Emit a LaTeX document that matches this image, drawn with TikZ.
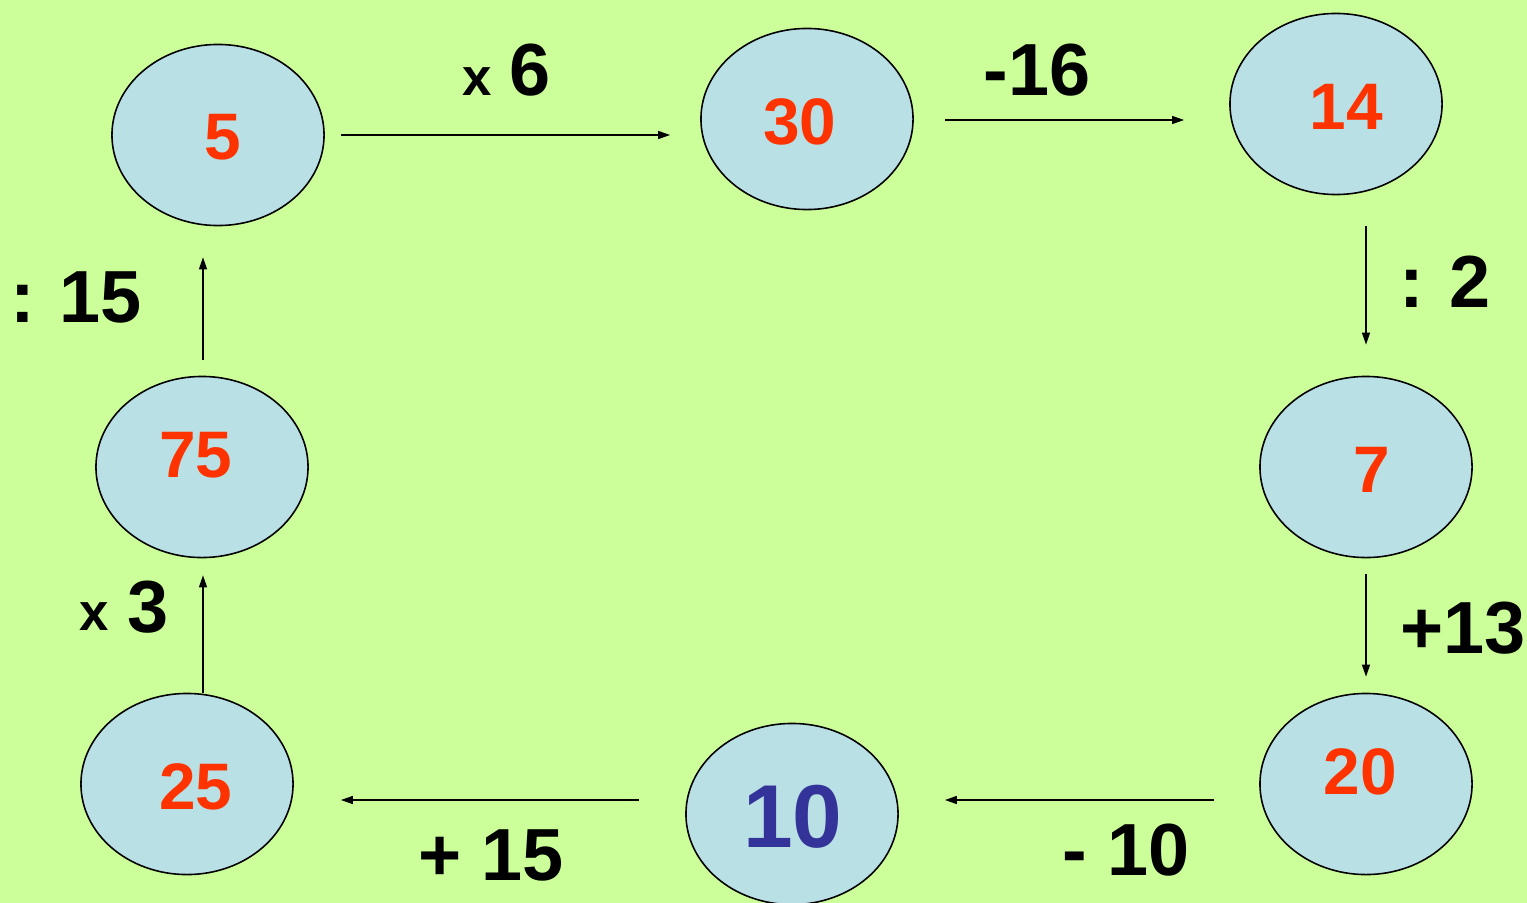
\documentclass[tikz,border=0pt]{standalone}
\usepackage{fontspec}
\setmainfont{Liberation Sans}
\usetikzlibrary{arrows.meta, positioning, calc, shapes.geometric}
\definecolor{bgGreen}{RGB}{204,255,153}
\definecolor{ballBlue}{RGB}{185,224,228}
\definecolor{numRed}{RGB}{255,51,0}
\definecolor{numBlue}{RGB}{51,51,153}

\begin{document}
\begin{tikzpicture}[x=0.01cm, y=-0.01cm,
  ball/.style={ellipse, draw=black, line width=0.45pt, fill=ballBlue,
    minimum width=2.12cm, minimum height=1.81cm, inner sep=0pt},
  numtxt/.style={text=numRed, inner sep=0pt, font=\fontsize{18.7}{20}\selectfont\bfseries},
  arr/.style={-{Triangle[length=0.12cm,width=0.08cm]}, line width=0.4pt},
  oplab/.style={anchor=base, inner sep=0pt, font=\fontsize{21}{23}\selectfont\bfseries},
  smallx/.style={anchor=base, inner sep=0pt, font=\fontsize{15}{17}\selectfont\bfseries}]
% background and frame
\fill[bgGreen] (0,0) rectangle (1527,903);
\useasboundingbox (0,0) rectangle (1527,903);
% the chain of numbers
\node[ball] (n5)  at (218,135) {};
\node[ball] (n30) at (807,119) {};
\node[ball] (n14) at (1336,104) {};
\node[ball] (n7)  at (1366,467) {};
\node[ball] (n20) at (1366,784) {};
\node[ball] (n10) at (792,814) {};
\node[ball] (n25) at (187,784) {};
\node[ball] (n75) at (202,467) {};
\node[numtxt] (t5)  at ($(n5)+(5,2)$) {5};
\node[numtxt] (t30) at ($(n30)+(-7,3)$) {30};
\node[numtxt] (t14) at ($(n14)+(10,3)$) {14};
\node[numtxt] (t7)  at ($(n7)+(6,3)$) {7};
\node[numtxt] (t20) at ($(n20)+(-6,-12)$) {20};
\node[numtxt, text=numBlue, font=\fontsize{25.4}{27}\selectfont\bfseries] (t10) at ($(n10)+(1,3)$) {10};
\node[numtxt] (t25) at ($(n25)+(9,3)$) {25};
\node[numtxt] (t75) at ($(n75)+(-6,-12)$) {75};
% arrows between the numbers
\draw[arr, shorten <=0.16cm, shorten >=0.30cm] (n5.east) -- (n5.east -| n30.west);
\draw[arr, shorten <=0.31cm, shorten >=0.45cm] ($(n30.east)+(0,1)$) -- ($(n30.east -| n14.west)+(0,1)$);
\draw[arr, shorten <=0.31cm, shorten >=0.31cm] (n7.north |- n14.south) -- (n7.north);
\draw[arr, shorten <=0.16cm, shorten >=0.16cm] (n7.south) -- (n20.north);
\draw[arr, shorten <=0.45cm, shorten >=0.46cm] ($(n20.west)+(0,16)$) -- ($(n20.west -| n10.east)+(0,16)$);
\draw[arr, shorten <=0.46cm, shorten >=0.47cm] ($(n10.west)+(0,-14)$) -- ($(n10.west -| n25.east)+(0,-14)$);
\draw[arr, shorten <=0cm, shorten >=0.17cm] ($(n25.north)+(16,0)$) -- ($(n75.south)+(1,0)$);
\draw[arr, shorten <=0.16cm, shorten >=0.31cm] ($(n75.north)+(1,0)$) -- ($(n75.north |- n5.south)+(1,0)$);
% operation labels
\node[smallx] (lx6) at (477,95) {x};
\node[oplab] (l6) at (530,95) {6};
\node[oplab] (l16) at (1037,95) {-16};
\node[oplab] (l2) at (1445,307) {:\,\,2};
\node[oplab] (l13) at (1463,653) {+13};
\node[oplab] (l10) at (1126,875) {- 10};
\node[oplab] (l15) at (491,880) {+ 15};
\node[smallx] (lx3) at (94,630) {x};
\node[oplab] (l3) at (148,632) {3};
\node[oplab] (l15b) at (76,322) {:\,\,15};
\end{tikzpicture}
\end{document}
